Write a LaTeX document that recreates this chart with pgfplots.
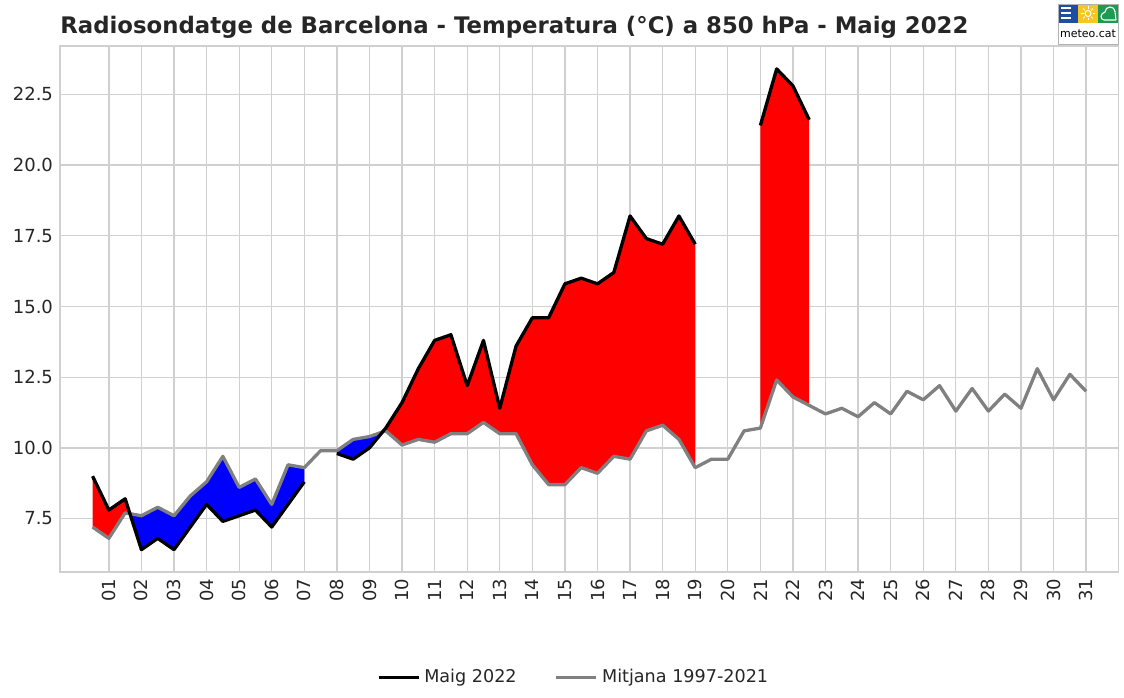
\documentclass[border=0pt]{standalone}
\usepackage{pgfplots}
\pgfplotsset{compat=1.18}
\usepackage{pgfplotstable}
\usepgfplotslibrary{fillbetween}
\usepackage{fontspec}
\setmainfont{DejaVu Sans}
\definecolor{txt}{HTML}{262626}
\definecolor{gridc}{HTML}{D0D0D0}
\definecolor{mgrey}{HTML}{808080}
\definecolor{logoblue}{HTML}{1F4E9E}
\definecolor{logoyellow}{HTML}{F6C623}
\definecolor{logogreen}{HTML}{1E9A52}

\pgfplotstableread{
x m a
0.5 9.0 7.2
1.0 7.8 6.8
1.5 8.2 7.7
2.0 6.4 7.6
2.5 6.8 7.9
3.0 6.4 7.6
3.5 7.2 8.3
4.0 8.0 8.8
4.5 7.4 9.7
5.0 7.6 8.6
5.5 7.8 8.9
6.0 7.2 8.0
6.5 8.0 9.4
7.0 8.8 9.3
7.5 nan 9.9
8.0 9.8 9.9
8.5 9.6 10.3
9.0 10.0 10.4
9.5 10.7 10.6
10.0 11.6 10.1
10.5 12.8 10.3
11.0 13.8 10.2
11.5 14.0 10.5
12.0 12.2 10.5
12.5 13.8 10.9
13.0 11.4 10.5
13.5 13.6 10.5
14.0 14.6 9.4
14.5 14.6 8.7
15.0 15.8 8.7
15.5 16.0 9.3
16.0 15.8 9.1
16.5 16.2 9.7
17.0 18.2 9.6
17.5 17.4 10.6
18.0 17.2 10.8
18.5 18.2 10.3
19.0 17.2 9.3
19.5 nan 9.6
20.0 nan 9.6
20.5 nan 10.6
21.0 21.4 10.7
21.5 23.4 12.4
22.0 22.8 11.8
22.5 21.6 11.5
23.0 nan 11.2
23.5 nan 11.4
24.0 nan 11.1
24.5 nan 11.6
25.0 nan 11.2
25.5 nan 12.0
26.0 nan 11.7
26.5 nan 12.2
27.0 nan 11.3
27.5 nan 12.1
28.0 nan 11.3
28.5 nan 11.9
29.0 nan 11.4
29.5 nan 12.8
30.0 nan 11.7
30.5 nan 12.6
31.0 nan 12.0
}\data

\begin{document}
\begin{tikzpicture}[x=0.5pt,y=0.5pt]
\begin{axis}[
  at={(30pt,62.5pt)}, anchor=south west,
  scale only axis, width=529.35pt, height=263pt,
  xmin=-0.5, xmax=32, ymin=5.61, ymax=24.21,
  xtick={1,2,3,4,5,6,7,8,9,10,11,12,13,14,15,16,17,18,19,20,21,22,23,24,25,26,27,28,29,30,31},
  xticklabels={01,02,03,04,05,06,07,08,09,10,11,12,13,14,15,16,17,18,19,20,21,22,23,24,25,26,27,28,29,30,31},
  ytick={7.5,10,12.5,15,17.5,20,22.5},
  yticklabel style={/pgf/number format/.cd, fixed, fixed zerofill, precision=1},
  /pgf/number format/assume math mode=true,
  tick label style={font=\fontsize{9}{10.5}\selectfont, text=txt},
  xticklabel style={rotate=90, anchor=east},
  major tick length=0pt,
  grid=major,
  major grid style={gridc, line width=0.65pt},
  axis line style={gridc, line width=0.7pt},
  legend style={at={(0.486,-0.2)}, anchor=center, draw=none, fill=none,
    legend columns=2, font=\fontsize{8.8}{10.5}\selectfont, text=txt,
    /tikz/every even column/.append style={column sep=17pt}},
  legend cell align=left,
  legend image code/.code={\draw[#1] (0pt,0pt) -- (20pt,0pt);},
]
\addlegendimage{black, line width=1.7pt}
\addlegendentry{Maig 2022}
\addlegendimage{mgrey, line width=1.7pt}
\addlegendentry{Mitjana 1997-2021}

\addplot[draw=none, name path=b1, restrict x to domain=0.4:7.1, forget plot] table[x=x,y=m]{\data};
\addplot[draw=none, name path=g1, restrict x to domain=0.4:7.1, forget plot] table[x=x,y=a]{\data};
\addplot[draw=none, name path=b2, restrict x to domain=7.9:19.1, forget plot] table[x=x,y=m]{\data};
\addplot[draw=none, name path=g2, restrict x to domain=7.9:19.1, forget plot] table[x=x,y=a]{\data};
\addplot[draw=none, name path=b3, restrict x to domain=20.9:22.6, forget plot] table[x=x,y=m]{\data};
\addplot[draw=none, name path=g3, restrict x to domain=20.9:22.6, forget plot] table[x=x,y=a]{\data};

\addplot[forget plot] fill between[of=b1 and g1, split,
  every even segment/.style={fill=red}, every odd segment/.style={fill=blue}];
\addplot[forget plot] fill between[of=b2 and g2, split,
  every even segment/.style={fill=blue}, every odd segment/.style={fill=red}];
\addplot[fill=red, forget plot] fill between[of=b3 and g3];

\addplot[mgrey, line width=1.65pt, line join=round, forget plot] table[x=x,y=a]{\data};
\addplot[black, line width=1.65pt, line join=round, unbounded coords=jump, forget plot] table[x=x,y=m]{\data};
\end{axis}

\node[anchor=base west, font=\fontsize{11.4}{13.5}\selectfont\bfseries, text=txt, inner sep=0pt] at (60,663) {Radiosondatge de Barcelona - Temperatura (°C) a 850 hPa - Maig 2022};

% logo
\fill[white] (1058,653) rectangle (1118,693);
\fill[logoblue] (1058,674) rectangle (1078,693);
\fill[logoyellow] (1078,674) rectangle (1098,693);
\fill[logogreen] (1098,674) rectangle (1118,693);
\draw[gray!60, line width=0.4pt] (1058,653) rectangle (1118,693);
\fill[white] (1061,687.5) rectangle (1071,689.5);
\fill[white] (1061,682.5) rectangle (1071,684.5);
\fill[white] (1061,677.5) rectangle (1071,679.5);
\draw[white, line width=0.5pt] (1088,683.5) circle (3);
\foreach \a in {0,45,...,315} \draw[white, line width=0.45pt] (1088,683.5) ++(\a:4.5) -- ++(\a:2.5);
\draw[white, line width=0.55pt] (1116,677) -- (1104,677) to[out=180,in=-90] (1101,680.5) to[out=90,in=200] (1105,685) to[out=90,in=180] (1110,690) to[out=0,in=90] (1115,685.5) to[out=-90,in=90] (1116,677);
\node[font=\fontsize{5.5}{6}\selectfont, text=black, inner sep=0pt] at (1088,663) {meteo.cat};
\path (0,0) rectangle (1124,697);
\end{tikzpicture}
\end{document}
